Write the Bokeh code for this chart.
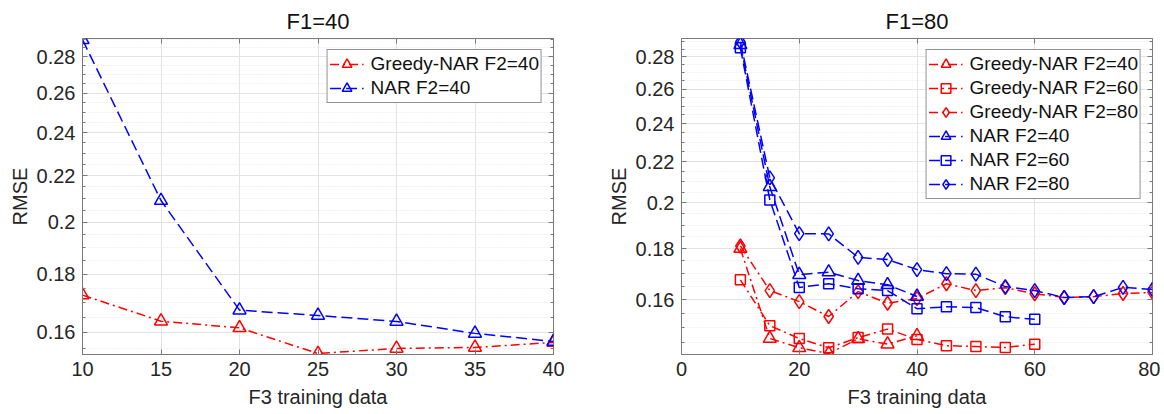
import numpy as np
from bokeh.plotting import figure
from bokeh.models import (FixedTicker, CustomJSTickFormatter, LogAxis, LinearAxis,
                          Legend, LegendItem, Range1d)
from bokeh.layouts import row
from bokeh.embed import file_html
from bokeh.resources import INLINE

# ---------------- data ----------------
# Left panel: F1=40
x_left = [10, 15, 20, 25, 30, 35, 40]
greedy_f2_40_left = [0.1726, 0.1637, 0.1615, 0.1533, 0.1549, 0.1552, 0.1568]
nar_f2_40_left = [0.2898, 0.2091, 0.1674, 0.1656, 0.1636, 0.1597, 0.1571]

# Right panel: F1=80
x_f2_40 = [10, 15, 20, 25, 30, 35, 40]
x_f2_60 = [10, 15, 20, 25, 30, 35, 40, 45, 50, 55, 60]
x_f2_80 = [10, 15, 20, 25, 30, 35, 40, 45, 50, 55, 60, 65, 70, 75, 80]
greedy_f2_40 = [0.1800, 0.1463, 0.1432, 0.1413, 0.1462, 0.1444, 0.1472]
greedy_f2_60 = [0.1675, 0.1507, 0.1463, 0.1432, 0.1466, 0.1495, 0.1460, 0.1439, 0.1436, 0.1433, 0.1444]
greedy_f2_80 = [0.1811, 0.1634, 0.1593, 0.1539, 0.1630, 0.1587, 0.1604, 0.1660, 0.1634, 0.1645,
                0.1622, 0.1608, 0.1611, 0.1623, 0.1627]
nar_f2_40 = [0.2880, 0.2076, 0.1695, 0.1705, 0.1672, 0.1656, 0.1612]
nar_f2_60 = [0.2860, 0.2014, 0.1646, 0.1660, 0.1641, 0.1634, 0.1567, 0.1574, 0.1571, 0.1538, 0.1529]
nar_f2_80 = [0.2900, 0.2119, 0.1863, 0.1862, 0.1764, 0.1755, 0.1715, 0.1699, 0.1697, 0.1649,
             0.1634, 0.1608, 0.1611, 0.1646, 0.1638]

y_major_ticks = [0.16, 0.18, 0.20, 0.22, 0.24, 0.26, 0.28]
y_minor_ticks = [0.145, 0.15, 0.155, 0.165, 0.17, 0.175, 0.185, 0.19, 0.195, 0.205, 0.21, 0.215,
                 0.225, 0.23, 0.235, 0.245, 0.25, 0.255, 0.265, 0.27, 0.275, 0.285, 0.29]
x_ticks_left = [10, 15, 20, 25, 30, 35, 40]
x_ticks_right = [0, 20, 40, 60, 80]

FONT = "Liberation Sans"
TXT = "#262626"
AX = "#7a7a7a"
RED = "#ff0000"
BLUE = "#0000ff"
DASH = "11 5"
DASHDOT = "9 4 2 4"
H = 412


def make_fig(title, width, xr, yr, xticks, border_left, border_right):
    p = figure(width=width, height=H, x_range=Range1d(*xr), y_range=Range1d(*yr),
               y_axis_type="log", output_backend="svg", toolbar_location=None,
               min_border_left=border_left, min_border_right=border_right,
               min_border_top=38, min_border_bottom=58)
    p.title.text = title
    p.title.align = "center"
    p.title.text_font = FONT
    p.title.text_font_size = "22px"
    p.title.text_font_style = "normal"
    p.title.text_color = "#111111"
    p.title.standoff = 10

    yt = FixedTicker(ticks=y_major_ticks, minor_ticks=y_minor_ticks)
    xt = FixedTicker(ticks=xticks, minor_ticks=[])
    p.yaxis.ticker = yt
    p.xaxis.ticker = xt
    p.ygrid.ticker = yt
    p.xgrid.ticker = xt
    p.yaxis.formatter = CustomJSTickFormatter(code="return String(Math.round(tick*100)/100)")

    for ax in (p.xaxis[0], p.yaxis[0]):
        ax.axis_line_color = AX
        ax.major_tick_line_color = AX
        ax.minor_tick_line_color = AX
        ax.major_tick_in = 5
        ax.major_tick_out = 0
        ax.minor_tick_in = 3
        ax.minor_tick_out = 0
        ax.major_label_text_font = FONT
        ax.major_label_text_font_size = "20px"
        ax.major_label_text_color = TXT
        ax.axis_label_text_font = FONT
        ax.axis_label_text_font_size = "20px"
        ax.axis_label_text_font_style = "normal"
        ax.axis_label_text_color = TXT
    p.xaxis.axis_label = "F3 training data"
    p.yaxis.axis_label = "RMSE"
    p.xaxis.major_label_standoff = 7
    p.xaxis.axis_label_standoff = 7
    p.yaxis.major_label_standoff = 7
    p.yaxis.axis_label_standoff = 3

    empty = CustomJSTickFormatter(code="return ''")
    ra = LogAxis(ticker=yt, formatter=empty, axis_line_color=None,
                 major_tick_in=5, major_tick_out=0, minor_tick_in=3, minor_tick_out=0,
                 major_tick_line_color=AX, minor_tick_line_color=AX,
                 major_label_standoff=0, major_label_text_font_size="1px")
    p.add_layout(ra, "right")
    ta = LinearAxis(ticker=xt, formatter=empty, axis_line_color=None,
                    major_tick_in=5, major_tick_out=0, minor_tick_in=0, minor_tick_out=0,
                    major_tick_line_color=AX,
                    major_label_standoff=0, major_label_text_font_size="1px")
    p.add_layout(ta, "above")

    p.outline_line_color = AX
    p.outline_line_width = 1
    p.grid.grid_line_color = "#e3e3e3"
    p.grid.grid_line_width = 1
    p.ygrid.minor_grid_line_color = "#e3e3e3"
    p.ygrid.minor_grid_line_dash = "1 2"
    p.background_fill_color = "white"
    p.border_fill_color = "white"
    return p


def series(p, x, y, color, dash, marker, size):
    ln = p.line(x, y, line_color=color, line_width=1.5, line_dash=dash)
    sc = p.scatter(x, y, marker=marker, size=size, fill_color=None,
                   line_color=color, line_width=1.5)
    return [ln, sc]


def style_legend(leg):
    leg.location = "top_right"
    leg.margin = 11
    leg.label_text_font = FONT
    leg.label_text_font_size = "19px"
    leg.label_text_color = "#111111"
    leg.glyph_width = 34
    leg.glyph_height = 24
    leg.label_height = 20
    leg.label_standoff = 7
    leg.spacing = 0
    leg.padding = 2
    leg.border_line_color = "#262626"
    leg.border_line_width = 1
    leg.background_fill_alpha = 1.0


# ---------------- left ----------------
p1 = make_fig("F1=40", 588, (10, 40), (0.153, 0.2905), x_ticks_left, 82, 35)
r_g = series(p1, x_left, greedy_f2_40_left, RED, DASHDOT, "triangle", 13)
r_n = series(p1, x_left, nar_f2_40_left, BLUE, DASH, "triangle", 13)
leg1 = Legend(items=[LegendItem(label="Greedy-NAR F2=40", renderers=r_g),
                     LegendItem(label="NAR F2=40", renderers=r_n)])
style_legend(leg1)
p1.add_layout(leg1)

# ---------------- right ----------------
p2 = make_fig("F1=80", 572, (0, 80), (0.141, 0.2922), x_ticks_right, 93, 8)
items = []
items.append(("Greedy-NAR F2=40", series(p2, x_f2_40, greedy_f2_40, RED, DASHDOT, "triangle", 13)))
items.append(("Greedy-NAR F2=60", series(p2, x_f2_60, greedy_f2_60, RED, DASHDOT, "square", 10)))
items.append(("Greedy-NAR F2=80", series(p2, x_f2_80, greedy_f2_80, RED, DASHDOT, "diamond", 14)))
items.append(("NAR F2=40", series(p2, x_f2_40, nar_f2_40, BLUE, DASH, "triangle", 13)))
items.append(("NAR F2=60", series(p2, x_f2_60, nar_f2_60, BLUE, DASH, "square", 10)))
items.append(("NAR F2=80", series(p2, x_f2_80, nar_f2_80, BLUE, DASH, "diamond", 14)))
leg2 = Legend(items=[LegendItem(label=l, renderers=r) for l, r in items])
style_legend(leg2)
p2.add_layout(leg2)

layout = row(p1, p2)
open("out.html", "w").write(file_html(layout, INLINE))
